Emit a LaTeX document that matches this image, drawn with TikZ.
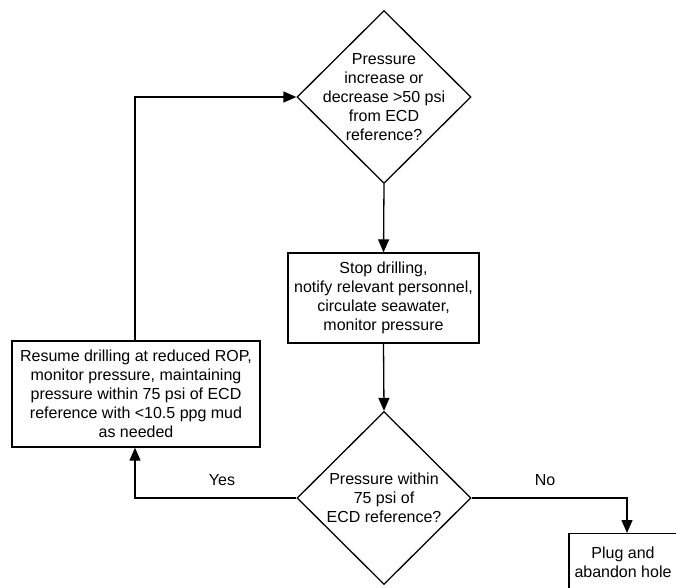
\documentclass[tikz,border=0pt]{standalone}
\usepackage{fontspec}
\setmainfont{Liberation Sans}
\usetikzlibrary{shapes.geometric,arrows.meta}
\begin{document}
\begin{tikzpicture}[x=1pt,y=-1pt,
  font=\fontsize{16}{19}\selectfont,
  line width=1.3pt,
  decision/.style={diamond,draw,inner sep=0pt,minimum width=174pt,minimum height=173pt},
  txt/.style={align=center,inner sep=0pt},
  procbox/.style={draw,rectangle,inner sep=0pt,align=center},
  flow/.style={-{Triangle[length=13pt,width=11pt]}},
  lbl/.style={inner sep=0pt}]
\useasboundingbox (0,0) rectangle (676,587);
\clip (0,0) rectangle (676,587);

% decisions
\node[decision] (d1) at (384,97) {};
\node[txt] (t1) at (384,97) {Pressure\\increase or\\decrease >50 psi\\from ECD\\reference?};
\node[decision] (d2) at (384,498) {};
\node[txt] (t2) at (384,498) {Pressure within\\75 psi of\\ECD reference?};

% process boxes
\node[procbox,minimum width=191pt,minimum height=90pt] (stop) at (383.5,298)
  {Stop drilling,\\notify relevant personnel,\\circulate seawater,\\monitor pressure};
\node[procbox,minimum width=248pt,minimum height=106pt] (resume) at (136,394)
  {Resume drilling at reduced ROP,\\monitor pressure, maintaining\\pressure within 75 psi of ECD\\reference with <10.5 ppg mud\\as needed};
\node[procbox,minimum width=108pt,minimum height=58pt,anchor=north] (plug) at (623,533)
  {Plug and\\abandon hole};

% connectors
\coordinate (loopTop) at (135,97);
\coordinate (yesCorner) at (135,498);
\coordinate (noCorner) at (627,498);
\draw[flow] (d1.south) -- (stop.north);
\draw[flow] (stop.south) -- (d2.north);
\draw[flow] (d2.west) -- (yesCorner) -- (resume.south -| yesCorner);
\draw[flow] (resume.north -| loopTop) -- (loopTop) -- (d1.west);
\draw[flow] (d2.east) -- (noCorner) -- (plug.north -| noCorner);

% branch labels
\node[lbl] (yes) at (222,480) {Yes};
\node[lbl] (no) at (545,480) {No};
\end{tikzpicture}
\end{document}
